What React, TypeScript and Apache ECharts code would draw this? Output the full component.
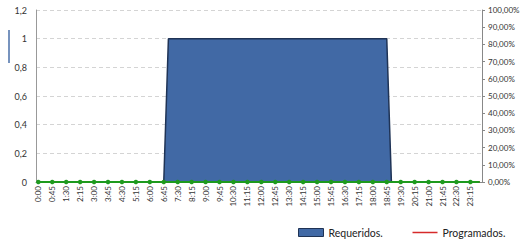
import React, { useEffect, useRef } from "react";
import * as echarts from "echarts";

const categories = [
  "0:00","0:15","0:30","0:45","1:00","1:15","1:30","1:45","2:00","2:15","2:30","2:45",
  "3:00","3:15","3:30","3:45","4:00","4:15","4:30","4:45","5:00","5:15","5:30","5:45",
  "6:00","6:15","6:30","6:45","7:00","7:15","7:30","7:45","8:00","8:15","8:30","8:45",
  "9:00","9:15","9:30","9:45","10:00","10:15","10:30","10:45","11:00","11:15","11:30","11:45",
  "12:00","12:15","12:30","12:45","13:00","13:15","13:30","13:45","14:00","14:15","14:30","14:45",
  "15:00","15:15","15:30","15:45","16:00","16:15","16:30","16:45","17:00","17:15","17:30","17:45",
  "18:00","18:15","18:30","18:45","19:00","19:15","19:30","19:45","20:00","20:15","20:30","20:45",
  "21:00","21:15","21:30","21:45","22:00","22:15","22:30","22:45","23:00","23:15","23:30","23:45",
];

const requeridos = [
  0,0,0,0,0,0,0,0,0,0,0,0,
  0,0,0,0,0,0,0,0,0,0,0,0,
  0,0,0,0,1,1,1,1,1,1,1,1,
  1,1,1,1,1,1,1,1,1,1,1,1,
  1,1,1,1,1,1,1,1,1,1,1,1,
  1,1,1,1,1,1,1,1,1,1,1,1,
  1,1,1,1,0,0,0,0,0,0,0,0,
  0,0,0,0,0,0,0,0,0,0,0,0,
];

const programados = [
  0,0,0,0,0,0,0,0,0,0,0,0,
  0,0,0,0,0,0,0,0,0,0,0,0,
  0,0,0,0,0,0,0,0,0,0,0,0,
  0,0,0,0,0,0,0,0,0,0,0,0,
  0,0,0,0,0,0,0,0,0,0,0,0,
  0,0,0,0,0,0,0,0,0,0,0,0,
  0,0,0,0,0,0,0,0,0,0,0,0,
  0,0,0,0,0,0,0,0,0,0,0,0,
];

const cobertura = [
  0,0,0,0,0,0,0,0,0,0,0,0,
  0,0,0,0,0,0,0,0,0,0,0,0,
  0,0,0,0,0,0,0,0,0,0,0,0,
  0,0,0,0,0,0,0,0,0,0,0,0,
  0,0,0,0,0,0,0,0,0,0,0,0,
  0,0,0,0,0,0,0,0,0,0,0,0,
  0,0,0,0,0,0,0,0,0,0,0,0,
  0,0,0,0,0,0,0,0,0,0,0,0,
];

const FONT = "Lato, 'Open Sans', sans-serif";

export default function App() {
  const ref = useRef<HTMLDivElement>(null);
  useEffect(() => {
    document.body.style.margin = "0";
    const chart = echarts.init(ref.current!, null, { renderer: "svg" });
    chart.setOption({
      animation: false,
      backgroundColor: "#ffffff",
      textStyle: { fontFamily: FONT },
      grid: { left: 36, right: 46, top: 10, bottom: 58, containLabel: false },
      legend: {
        left: 293,
        top: 222,
        itemWidth: 25,
        itemHeight: 8,
        itemGap: 29,
        textStyle: { fontFamily: FONT, fontSize: 10.5, color: "#222" },
        data: [
          {
            name: "Requeridos.",
            icon: "rect",
            itemStyle: { color: "#4169a5", borderColor: "#1f3355", borderWidth: 1 },
          },
          {
            name: "Programados.",
            itemStyle: { color: "rgba(0,0,0,0)", borderColor: "rgba(0,0,0,0)", borderWidth: 0 },
            lineStyle: { color: "#d62a2a", width: 1.5 },
          },
        ],
      },
      xAxis: {
        type: "category",
        data: categories,
        boundaryGap: true,
        axisLine: { show: true, lineStyle: { color: "#888" } },
        axisTick: { show: false },
        axisLabel: {
          interval: 2,
          rotate: 90,
          fontSize: 8,
          color: "#333",
          fontFamily: FONT,
          margin: 4,
        },
      },
      yAxis: [
        {
          type: "value",
          min: 0,
          max: 1.2,
          interval: 0.2,
          axisLine: { show: true, lineStyle: { color: "#999" } },
          axisTick: { show: false },
          splitLine: { show: true, lineStyle: { color: "#d4d4d4", type: [4, 3] } },
          axisLabel: {
            fontSize: 9,
            color: "#333",
            margin: 9,
            fontFamily: FONT,
            formatter: (v: number) => String(Number(v.toFixed(1))).replace(".", ","),
          },
        },
        {
          type: "value",
          min: 0,
          max: 1,
          interval: 0.1,
          position: "right",
          axisLine: { show: true, lineStyle: { color: "#888" } },
          axisTick: { show: true, inside: false, length: 3, lineStyle: { color: "#888" } },
          splitLine: { show: false },
          axisLabel: {
            fontSize: 8,
            color: "#333",
            margin: 6,
            fontFamily: FONT,
            formatter: (v: number) => (v * 100).toFixed(2).replace(".", ",") + "%",
          },
        },
      ],
      graphic: [
        {
          type: "line",
          shape: { x1: 9, y1: 30, x2: 9, y2: 63 },
          style: { stroke: "#4a6fa8", lineWidth: 1.5 },
        },
      ],
      series: [
        {
          name: "Requeridos.",
          type: "line",
          data: requeridos,
          symbol: "none",
          lineStyle: { color: "#1f3355", width: 1.5 },
          itemStyle: { color: "#4169a5" },
          areaStyle: { color: "#4169a5", opacity: 1 },
          z: 2,
        },
        {
          name: "Programados.",
          type: "line",
          data: programados,
          symbol: "none",
          lineStyle: { color: "#d62a2a", width: 1.5 },
          itemStyle: { color: "#d62a2a" },
          z: 3,
        },
        {
          name: "Cobertura",
          type: "line",
          yAxisIndex: 1,
          data: cobertura,
          symbol: "circle",
          symbolSize: 4.5,
          lineStyle: { color: "#1e9a1e", width: 2 },
          itemStyle: { color: "#1e9a1e" },
          z: 4,
        },
      ],
    });
    return () => chart.dispose();
  }, []);
  return <div ref={ref} style={{ width: 528, height: 240 }} />;
}
